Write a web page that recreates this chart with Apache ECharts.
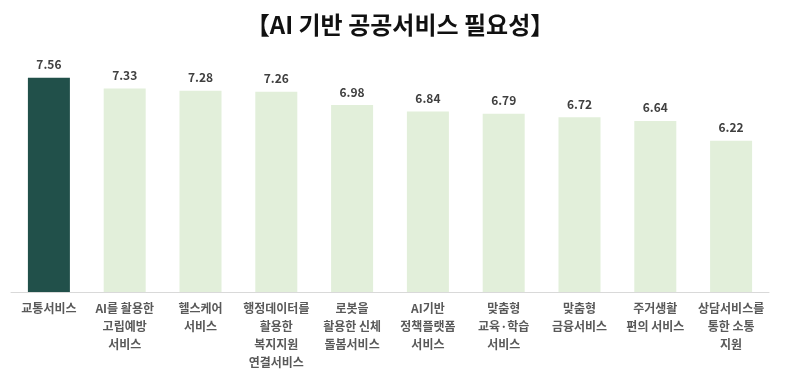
<!DOCTYPE html>
<html>
<head>
<meta charset="utf-8">
<script src="https://cdn.jsdelivr.net/npm/echarts@6/dist/echarts.min.js"></script>
<style>
html,body{margin:0;padding:0;background:#fff;}
#chart{width:800px;height:381px;}
</style>
</head>
<body>
<div id="chart"></div>
<script>
const titleText = '【AI 기반 공공서비스 필요성】';
const categories = [
  '교통서비스',
  'AI를 활용한\n고립예방\n서비스',
  '헬스케어\n서비스',
  '행정데이터를\n활용한\n복지지원\n연결서비스',
  '로봇을\n활용한 신체\n돌봄서비스',
  'AI기반\n정책플랫폼\n서비스',
  '맞춤형\n교육·학습\n서비스',
  '맞춤형\n금융서비스',
  '주거생활\n편의 서비스',
  '상담서비스를\n통한 소통\n지원'
];
const values = [7.56, 7.33, 7.28, 7.26, 6.98, 6.84, 6.79, 6.72, 6.64, 6.22];
const highlightIndex = 0;

const FONT = '"Noto Sans CJK KR", "Noto Sans", sans-serif';
const chart = echarts.init(document.getElementById('chart'), null, {renderer: 'canvas'});
chart.setOption({
  animation: false,
  backgroundColor: '#ffffff',
  title: {
    text: titleText,
    left: 'center',
    top: 8,
    textStyle: {fontFamily: FONT, fontSize: 24, fontWeight: 'bold', color: '#111111'}
  },
  grid: {left: 11, right: 31, top: 57, bottom: 89, containLabel: false},
  xAxis: {
    type: 'category',
    data: categories,
    axisLine: {show: true, lineStyle: {color: '#D9D9D9', width: 1}},
    axisTick: {show: false},
    axisLabel: {
      interval: 0,
      margin: 7,
      fontFamily: FONT,
      fontSize: 12,
      fontWeight: 'bold',
      lineHeight: 18,
      color: '#595959'
    }
  },
  yAxis: {
    type: 'value',
    min: 3,
    max: 8,
    show: false,
    splitLine: {show: false}
  },
  series: [{
    type: 'bar',
    data: values.map((v, i) => ({
      value: v,
      itemStyle: {color: i === highlightIndex ? '#21504A' : '#E2EFDA'}
    })),
    barWidth: 42,
    label: {
      show: true,
      position: 'top',
      distance: 7,
      formatter: p => p.value.toFixed(2),
      fontFamily: FONT,
      fontSize: 12,
      fontWeight: 'bold',
      color: '#404040'
    }
  }]
});
</script>
</body>
</html>
